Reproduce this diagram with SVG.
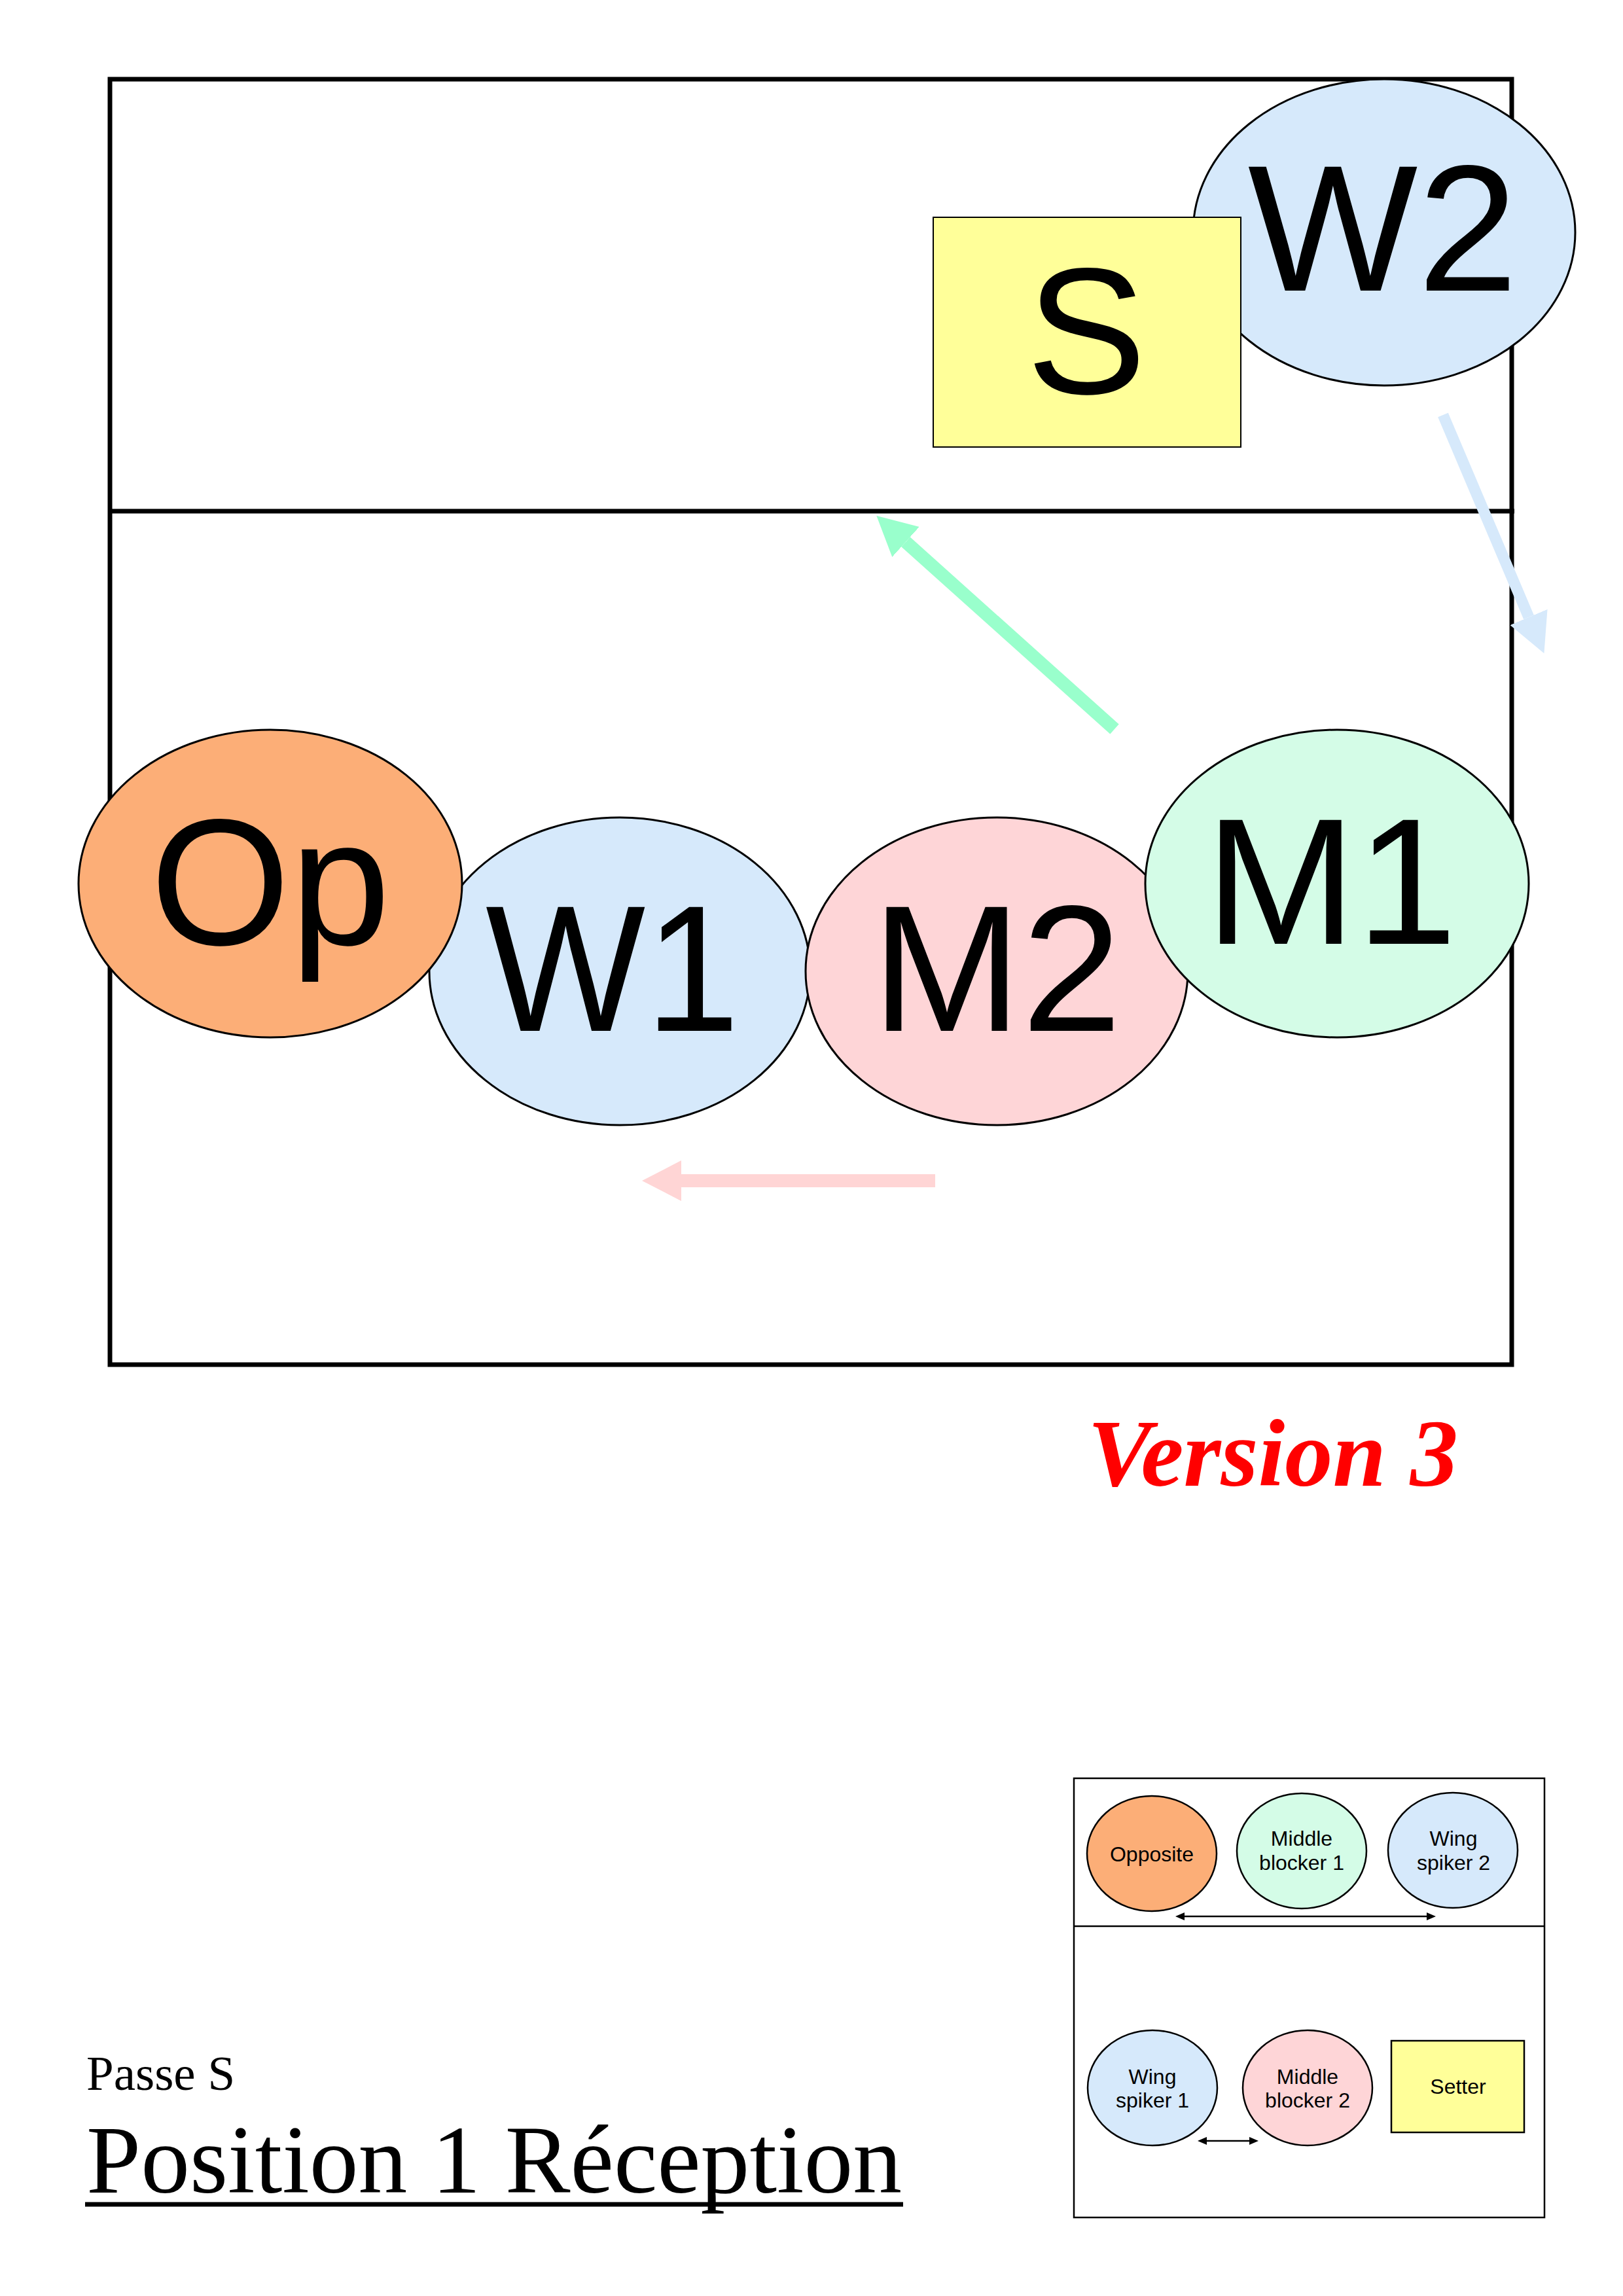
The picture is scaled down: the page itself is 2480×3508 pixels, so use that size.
<svg xmlns="http://www.w3.org/2000/svg" width="2480" height="3508" viewBox="0 0 2480 3508">
<style>
.court{fill:none;stroke:#000;stroke-width:7}
.node{stroke:#000;stroke-width:3}
.big{font-family:"Liberation Sans",Arial,sans-serif;font-size:275px;fill:#000;text-anchor:middle}
.leg{font-family:"Liberation Sans",Arial,sans-serif;font-size:32px;fill:#000;text-anchor:middle}
.lnode{stroke:#000;stroke-width:2.5}
.op{fill:#FCAE77}
.w{fill:#D6E9FB}
.m1{fill:#D4FCE7}
.m2{fill:#FED5D7}
.s{fill:#FFFF99}
.serif{font-family:"Liberation Serif","Times New Roman",serif;fill:#000}
</style>
<defs>
<marker id="hg" markerUnits="userSpaceOnUse" markerWidth="60" markerHeight="62" refX="0" refY="31" orient="auto"><path d="M0,0 L60,31 L0,62 z" fill="#99FFCC"/></marker>
<marker id="hb" markerUnits="userSpaceOnUse" markerWidth="60" markerHeight="62" refX="0" refY="31" orient="auto"><path d="M0,0 L60,31 L0,62 z" fill="#D6E9FB"/></marker>
<marker id="hp" markerUnits="userSpaceOnUse" markerWidth="60" markerHeight="62" refX="0" refY="31" orient="auto"><path d="M0,0 L60,31 L0,62 z" fill="#FFD5D5"/></marker>
<marker id="sa" markerUnits="userSpaceOnUse" markerWidth="14" markerHeight="12" refX="1" refY="6" orient="auto-start-reverse"><path d="M0,0 L14,6 L0,12 z" fill="#000"/></marker>
</defs>
<rect width="2480" height="3508" fill="#fff"/>

<g id="court">
<rect class="court" x="168" y="121" width="2142" height="1964"/>
<line class="court" x1="168" y1="781" x2="2314" y2="781"/>
</g>

<g id="W2"><ellipse class="node w" cx="2115" cy="355" rx="292" ry="234"/><text class="big" x="2113" y="444">W2</text></g>
<g id="S"><rect class="s" x="1426" y="332" width="470" height="351" stroke="#000" stroke-width="2"/><text class="big" x="1660" y="601">S</text></g>
<g id="W1"><ellipse class="node w" cx="947" cy="1484" rx="291" ry="235"/><text class="big" x="936" y="1575" textLength="388" lengthAdjust="spacingAndGlyphs">W1</text></g>
<g id="M2"><ellipse class="node m2" cx="1523" cy="1484" rx="292" ry="235"/><text class="big" x="1523" y="1575">M2</text></g>
<g id="M1"><ellipse class="node m1" cx="2043" cy="1350" rx="293" ry="235"/><text class="big" x="2034" y="1442" textLength="385" lengthAdjust="spacingAndGlyphs">M1</text></g>
<g id="Op"><ellipse class="node op" cx="413" cy="1350" rx="293" ry="235"/><text class="big" x="413" y="1443">Op</text></g>

<g id="connectors">
<line x1="1703" y1="1114" x2="1384" y2="828" stroke="#99FFCC" stroke-width="20" marker-end="url(#hg)"/>
<line x1="2205" y1="634" x2="2336" y2="943" stroke="#D6E9FB" stroke-width="17" marker-end="url(#hb)"/>
<line x1="1429" y1="1804" x2="1041" y2="1804" stroke="#FFD5D5" stroke-width="20" marker-end="url(#hp)"/>
</g>

<text id="version" x="1662" y="2270" font-family="'Liberation Serif','Times New Roman',serif" font-size="146" font-weight="bold" font-style="italic" fill="#FF0000" textLength="566" lengthAdjust="spacingAndGlyphs">Version 3</text>

<g id="title">
<text class="serif" x="132" y="3193" font-size="75">Passe S</text>
<text class="serif" x="132" y="3350" font-size="148" textLength="1246" lengthAdjust="spacingAndGlyphs">Position 1 Réception</text>
<line x1="130" y1="3368" x2="1380" y2="3368" stroke="#000" stroke-width="7"/>
</g>

<g id="legend">
<rect x="1641" y="2717" width="719" height="671" fill="none" stroke="#000" stroke-width="2.5"/>
<line x1="1641" y1="2943" x2="2360" y2="2943" stroke="#000" stroke-width="2.5"/>
<g id="leg-opposite"><ellipse class="lnode op" cx="1760" cy="2832" rx="99" ry="88"/><text class="leg" x="1760" y="2844">Opposite</text></g>
<g id="leg-mb1"><ellipse class="lnode m1" cx="1989" cy="2828" rx="99" ry="88"/><text class="leg" x="1989" y="2820">Middle</text><text class="leg" x="1989" y="2857">blocker 1</text></g>
<g id="leg-ws2"><ellipse class="lnode w" cx="2220" cy="2827" rx="99" ry="88"/><text class="leg" x="2221" y="2820">Wing</text><text class="leg" x="2221" y="2857">spiker 2</text></g>
<g id="leg-ws1"><ellipse class="lnode w" cx="1761" cy="3190" rx="99" ry="88"/><text class="leg" x="1761" y="3184">Wing</text><text class="leg" x="1761" y="3220">spiker 1</text></g>
<g id="leg-mb2"><ellipse class="lnode m2" cx="1998" cy="3190" rx="99" ry="88"/><text class="leg" x="1998" y="3184">Middle</text><text class="leg" x="1998" y="3220">blocker 2</text></g>
<g id="leg-setter"><rect class="lnode s" x="2126" y="3118" width="203" height="140"/><text class="leg" x="2228" y="3199">Setter</text></g>
<g id="leg-connectors">
<line x1="1809" y1="2928" x2="2181" y2="2928" stroke="#000" stroke-width="2.5" marker-start="url(#sa)" marker-end="url(#sa)"/>
<line x1="1843" y1="3271" x2="1910" y2="3271" stroke="#000" stroke-width="2.5" marker-start="url(#sa)" marker-end="url(#sa)"/>
</g>
</g>
</svg>
